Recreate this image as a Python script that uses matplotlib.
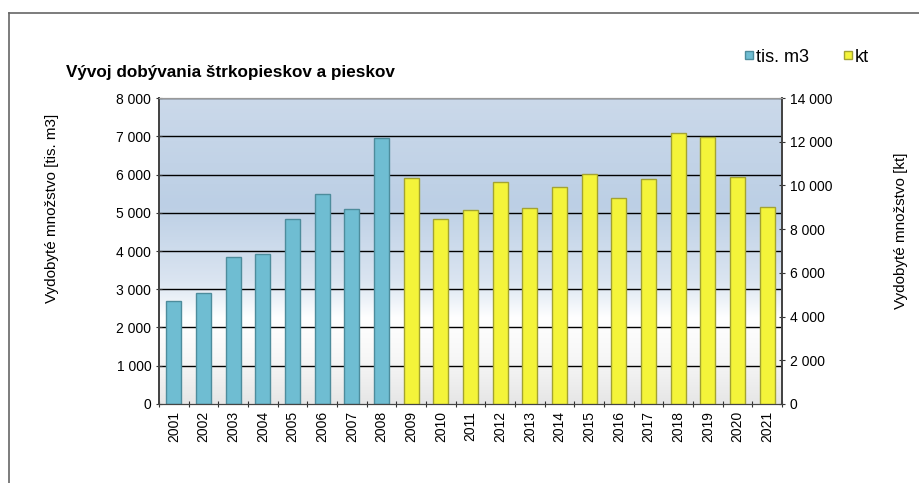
import matplotlib.pyplot as plt
import numpy as np
from matplotlib.colors import LinearSegmentedColormap
from matplotlib.lines import Line2D

plt.rcParams['font.family'] = ['Liberation Sans', 'DejaVu Sans']

# Data
years = [str(y) for y in range(2001, 2022)]
years_m3 = years[:8]
vals_m3 = [2680, 2910, 3850, 3920, 4850, 5480, 5100, 6960]
years_kt = years[8:]
vals_kt = [10330, 8470, 8890, 10170, 8980, 9940, 10510, 9420, 10290, 12380, 12240, 10400, 9030]

left_ticks = np.arange(0, 8001, 1000)
right_ticks = np.arange(0, 14001, 2000)

def fmt(v):
    return f"{v:,}".replace(",", " ")

fig = plt.figure(figsize=(9.2, 4.83), dpi=100)
ax = fig.add_axes([0.1728, 0.1636, 0.6772, 0.6334])
ax2 = ax.twinx()

# background gradient (blue top -> white -> light grey shadow)
cmap = LinearSegmentedColormap.from_list('bg', [
    (0.0, '#cbd9ea'), (0.35, '#bccfe5'), (0.6, '#dbe5f1'),
    (0.72, '#ffffff'), (0.85, '#f7f7f7'), (1.0, '#e6e6e6')])
grad = np.linspace(0, 1, 256).reshape(-1, 1)
ax.imshow(grad, aspect='auto', cmap=cmap, extent=[0, 1, 0, 1],
          transform=ax.transAxes, zorder=0)

x_all = np.arange(len(years))
x_m3 = np.arange(len(years_m3))
x_kt = np.arange(len(years_m3), len(years))

ax.set_xlim(-0.5, len(years) - 0.5)
ax.set_ylim(0, 8000)
ax2.set_ylim(0, 14000)

for t in left_ticks[1:]:
    ax.axhline(t, color='black', lw=1.0, zorder=1)

ax.bar(x_m3, vals_m3, width=0.5, color='#6fbdd2', edgecolor='#4d8c9c', lw=1.0, zorder=2)
ax2.bar(x_kt, vals_kt, width=0.5, color='#f4f43a', edgecolor='#a3a332', lw=1.0, zorder=2)

ax.set_yticks(left_ticks)
ax.set_yticklabels([fmt(v) for v in left_ticks], fontsize=10)
ax2.set_yticks(right_ticks)
ax2.set_yticklabels([fmt(v) for v in right_ticks], fontsize=10)

ax.set_xticks(np.arange(-0.5, len(years), 1.0))
ax.set_xticklabels([])
ax.set_xticks(x_all, minor=True)
ax.set_xticklabels(years, minor=True, rotation=90, fontsize=10)
ax.tick_params(axis='x', which='minor', length=0, pad=5)
ax.tick_params(axis='x', which='major', length=4, direction='inout', color='#333333')
ax.tick_params(axis='y', length=4, direction='inout', color='#333333')
ax2.tick_params(axis='y', length=4, direction='inout', color='#333333')

for a in (ax, ax2):
    a.spines['left'].set_color('#444444')
    a.spines['right'].set_color('#444444')
    a.spines['bottom'].set_color('#444444')
    a.spines['top'].set_color('#999999')
    a.spines['left'].set_linewidth(1.3)
    a.spines['right'].set_linewidth(1.3)

ax.set_ylabel('Vydobyté množstvo [tis. m3]', fontsize=11)
ax.yaxis.set_label_coords(-0.16, 0.64)
ax2.set_ylabel('Vydobyté množstvo [kt]', fontsize=11)
ax2.yaxis.set_label_coords(1.18, 0.565)

fig.text(66 / 920, 1 - 72 / 483, 'Vývoj dobývania štrkopieskov a pieskov',
         fontsize=12.3, fontweight='bold', va='center', ha='left')

handles = [
    Line2D([], [], marker='s', ls='', markersize=6, markerfacecolor='#6fbdd2', markeredgecolor='#4d8c9c'),
    Line2D([], [], marker='s', ls='', markersize=6, markerfacecolor='#f4f43a', markeredgecolor='#a3a332'),
]
fig.legend(handles, ['tis. m3', 'kt'], loc='center', bbox_to_anchor=(806 / 920, 1 - 57 / 483),
           ncol=2, frameon=False, fontsize=13, handletextpad=0.05, columnspacing=1.8, handlelength=0.7)

# outer chart border (top and left edges visible)
fig.add_artist(Line2D([9 / 920, 9 / 920], [0, 1 - 13 / 483], transform=fig.transFigure,
                      color='#666666', lw=1.2))
fig.add_artist(Line2D([9 / 920, 1], [1 - 13 / 483, 1 - 13 / 483], transform=fig.transFigure,
                      color='#666666', lw=1.2))

fig.savefig('out.png', dpi=100)
